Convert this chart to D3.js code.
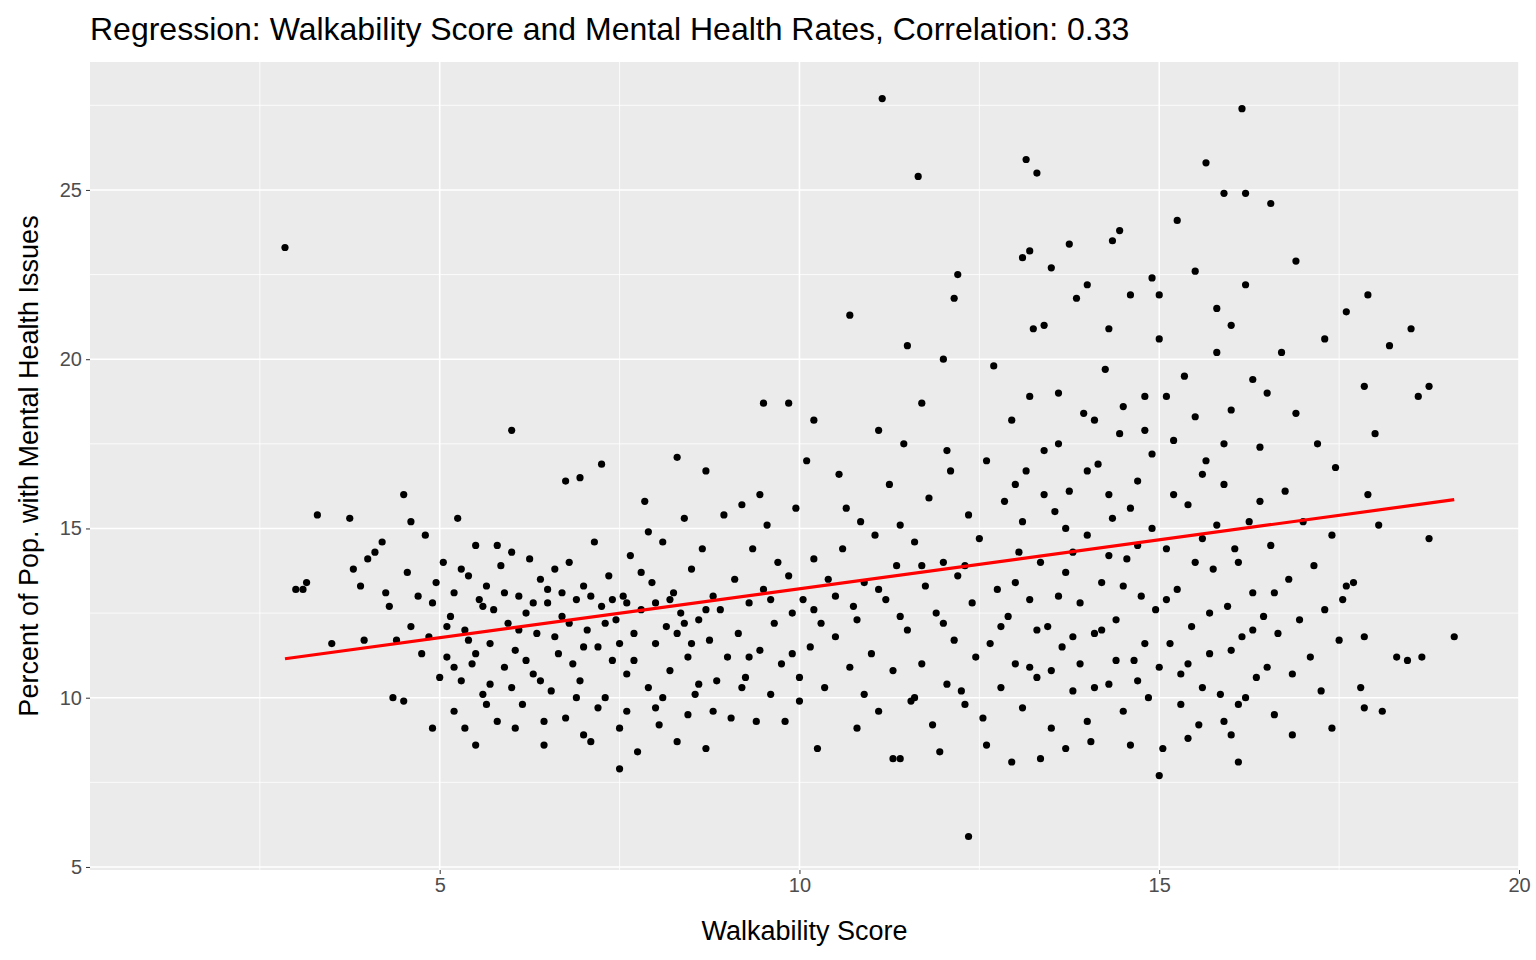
<!DOCTYPE html>
<html>
<head>
<meta charset="utf-8">
<script src="https://cdn.jsdelivr.net/npm/d3@7"></script>
<style>
  body { margin: 0; background: white; }
  text { font-family: Arial, "Liberation Sans", sans-serif; }
</style>
</head>
<body>
<svg id="chart" width="1536" height="960"></svg>
<script>
// values, as [walkability, mental health %]
var outlierPoints = [
  [2.85,23.3],[3.0,13.2],[3.15,13.4],[3.3,15.4],[3.1,13.2],[3.5,11.6],[3.75,15.3],[3.8,13.8],[3.9,13.3],
  [4.0,14.1],[4.1,14.3],[4.2,14.6],[3.95,11.7],[4.35,10.0],[4.5,9.9],[4.5,16.0],[4.6,15.2],[4.9,9.1],
  [6.0,17.9],[6.75,16.4],[6.95,16.5],[7.25,16.9],[7.5,7.9],[8.3,17.1],[8.7,16.7],[9.5,18.7],[9.85,18.7],
  [10.2,18.2],[10.7,21.3],[11.15,27.7],[11.1,17.9],[11.65,25.4],[11.5,20.4],[11.7,18.7],[12.2,22.5],
  [12.15,21.8],[12.0,20.0],[12.35,5.9],[11.95,8.4],[11.3,8.2],[11.4,8.2],[13.15,25.9],[13.3,25.5],
  [13.1,23.0],[13.2,23.2],[13.75,23.4],[13.5,22.7],[14.45,23.8],[14.35,23.5],[15.0,7.7],[15.25,24.1],
  [15.65,25.8],[15.9,24.9],[16.15,27.4],[16.2,24.9],[16.55,24.6],[16.1,8.1],[17.9,21.9],[17.85,19.2],
  [18.2,20.4],[18.5,20.9],[18.75,19.2],[18.6,18.9],[18.75,14.7],[19.1,11.8],[18.3,11.2],[18.45,11.1],
  [18.65,11.2],[17.85,9.7],[18.1,9.6],[16.85,8.9],[12.95,8.1],[13.35,8.2],[17.6,21.4],[17.3,20.6],
  [18.0,17.8],[18.05,15.1],[17.9,16.0],[17.7,13.4],[17.6,13.3],[17.85,11.8],[17.8,10.3],[17.4,9.1]
];
var clusterLeft = [
  [4.85,11.8],[4.9,12.8],[4.95,13.4],[5.0,10.6],[5.05,14.0],[5.1,11.2],[5.15,12.4],[5.2,13.1],[5.2,9.6],
  [5.25,15.3],[5.3,10.5],[5.35,12.0],[5.4,13.6],[5.45,11.0],[5.5,14.5],[5.5,8.6],[5.55,12.9],[5.6,10.1],
  [5.65,13.3],[5.7,11.6],[5.75,12.6],[5.8,9.3],[5.85,13.9],[5.9,10.9],[5.95,12.2],[6.0,14.3],[6.05,11.4],
  [6.1,13.0],[6.15,9.8],[6.2,12.5],[6.25,14.1],[6.3,10.7],[6.35,11.9],[6.4,13.5],[6.45,8.6],[6.5,12.8],
  [6.55,10.2],[6.6,13.8],[6.65,11.3],[6.7,12.4],[6.75,9.4],[6.8,14.0],[6.85,11.0],[6.9,12.9],[6.95,10.5],
  [7.0,13.3],[7.05,12.0],[7.1,8.7],[7.15,14.6],[7.2,11.5],[7.25,12.7],[7.3,10.0],[7.35,13.6],[7.4,11.1],
  [7.45,12.3],[7.5,9.1],[7.55,13.0],[7.6,10.7],[7.65,14.2],[7.7,11.9],[7.75,8.4],[7.8,12.6],[7.85,15.8],
  [7.9,10.3],[7.95,13.4],[8.0,11.6],[8.05,9.2],[8.1,14.6],[8.15,12.1],[8.2,10.8],[8.25,13.1],[8.3,8.7],
  [8.35,12.5],[8.4,15.3],[8.45,11.2],[8.5,13.8],[8.55,10.1],[8.6,12.3],[8.65,14.4],[8.7,8.5],[8.75,11.7],
  [8.8,13.0],[8.85,10.5],[8.9,12.6],[8.95,15.4],[9.0,11.2],[5.1,12.1],[5.3,13.8],[5.6,12.7],[5.9,13.1],
  [6.2,11.1],[6.5,13.2],[6.8,12.2],[7.1,13.0],[7.4,12.9],[7.7,11.1],[8.0,12.8],[8.3,11.9],[8.6,10.4],
  [5.4,11.7],[5.7,10.4],[6.0,10.3],[6.3,12.8],[6.6,11.8],[6.9,10.0],[7.2,9.7],[7.5,11.6],[7.8,13.7],
  [8.1,10.0],[8.4,12.2],[8.7,12.6],[5.2,10.9],[5.5,11.3],[5.8,14.5],[6.1,12.0],[6.4,10.5],[6.7,13.1],
  [7.0,11.5],[7.3,12.2],[7.6,12.8],[7.9,14.9],[8.2,12.9],[8.5,11.6],[8.8,9.6],[6.05,9.1],[6.45,9.3],
  [7.0,8.9],[7.6,9.6],[8.0,9.7],[8.45,9.5],[5.35,9.1],[5.65,9.8],[4.7,13.0],[4.75,11.3],[4.6,12.1],
  [4.4,11.7],[4.3,12.7],[4.55,13.7],[4.8,14.8],[4.25,13.1]
];
var clusterMid = [
  [9.05,9.4],[9.1,13.5],[9.15,11.9],[9.2,15.7],[9.25,10.6],[9.3,12.8],[9.35,14.4],[9.4,9.3],[9.45,11.4],
  [9.5,13.2],[9.55,15.1],[9.6,10.1],[9.65,12.2],[9.7,14.0],[9.75,11.0],[9.8,9.3],[9.85,13.6],[9.9,12.5],
  [9.95,15.6],[10.0,10.6],[10.05,12.9],[10.1,17.0],[10.15,11.5],[10.2,14.1],[10.25,8.5],[10.3,12.2],
  [10.35,10.3],[10.4,13.5],[10.5,11.8],[10.55,16.6],[10.6,14.4],[10.7,10.9],[10.75,12.7],[10.8,9.1],
  [10.85,15.2],[10.9,13.4],[11.0,11.3],[11.05,14.8],[11.1,9.6],[11.2,12.9],[11.25,16.3],[11.3,10.8],
  [11.35,13.9],[11.4,15.1],[11.5,12.0],[11.55,9.9],[11.6,14.6],[11.7,11.0],[11.75,13.3],[11.8,15.9],
  [11.85,9.2],[11.9,12.5],[12.0,14.0],[12.05,10.4],[12.1,16.7],[12.15,11.7],[12.2,13.6],[12.3,9.8],
  [12.35,15.4],[12.4,12.8],[12.45,11.2],[9.3,11.2],[9.6,12.9],[9.9,11.3],[10.2,12.6],[10.5,13.0],
  [10.8,12.3],[11.1,13.2],[11.4,12.4],[11.7,13.9],[12.0,12.2],[12.3,13.9],[9.2,10.3],[10.0,9.9],
  [10.9,10.1],[11.6,10.0],[12.25,10.2],[9.45,16.0],[10.65,15.6],[11.45,17.5],[12.05,17.3]
];
var clusterRight = [
  [12.5,14.7],[12.55,9.4],[12.6,17.0],[12.65,11.6],[12.7,19.8],[12.75,13.2],[12.8,10.3],[12.85,15.8],
  [12.9,12.4],[12.95,18.2],[13.0,11.0],[13.05,14.3],[13.1,9.7],[13.15,16.7],[13.2,12.9],[13.25,20.9],
  [13.3,10.6],[13.35,14.0],[13.4,17.3],[13.45,12.1],[13.5,9.1],[13.55,15.5],[13.6,19.0],[13.65,11.5],
  [13.7,13.7],[13.75,16.1],[13.8,10.2],[13.85,21.8],[13.9,12.8],[13.95,18.4],[14.0,14.8],[14.05,8.7],
  [14.1,11.9],[14.15,16.9],[14.2,13.4],[14.25,19.7],[14.3,10.4],[14.35,15.3],[14.4,12.3],[14.45,17.8],
  [14.5,9.6],[14.55,14.1],[14.6,21.9],[14.65,11.1],[14.7,16.4],[14.75,13.0],[14.8,18.9],[14.85,10.0],
  [14.9,15.0],[14.95,12.6],[15.0,20.6],[15.05,8.5],[15.1,14.4],[15.15,11.6],[15.2,17.6],[15.25,13.2],
  [15.3,10.7],[15.35,19.5],[15.4,15.7],[15.45,12.1],[15.5,22.6],[15.55,9.2],[15.6,14.7],[15.65,17.0],
  [15.7,11.3],[15.75,13.8],[15.8,20.2],[15.85,10.1],[15.9,16.3],[15.95,12.7],[16.0,18.5],[16.05,14.4],
  [16.1,9.8],[16.15,11.8],[16.2,22.2],[16.25,15.2],[16.3,13.1],[16.35,10.6],[16.4,17.4],[16.45,12.4],
  [16.5,19.0],[16.55,14.5],[16.6,9.5],[16.65,11.9],[16.7,20.2],[16.75,16.1],[16.8,13.5],[16.85,10.7],
  [16.9,18.4],[16.95,12.3],[17.0,15.2],[17.1,11.2],[17.15,13.9],[17.2,17.5],[17.25,10.2],[17.3,12.6],
  [17.4,14.8],[17.45,16.8],[17.5,11.7],[17.55,12.9],[13.0,13.4],[13.3,12.0],[13.6,13.0],[13.9,11.0],
  [14.2,12.0],[14.5,13.3],[14.8,11.6],[15.1,12.9],[15.4,11.0],[15.7,12.5],[16.0,11.4],[16.3,12.0],
  [13.1,15.2],[13.4,16.0],[13.7,15.0],[14.0,16.7],[14.3,14.2],[14.6,15.6],[14.9,17.2],[15.2,16.0],
  [15.5,14.0],[15.8,15.1],[16.1,14.0],[16.4,15.8],[13.2,10.9],[13.5,10.8],[13.8,11.8],[14.1,10.3],
  [14.4,11.1],[14.7,10.5],[15.0,10.9],[15.3,9.8],[15.6,10.3],[15.9,9.3],[16.2,10.0],[16.5,10.9],
  [13.2,18.9],[13.6,17.5],[14.1,18.2],[14.5,18.6],[14.8,17.9],[15.1,18.9],[15.5,18.3],[15.9,17.5],
  [16.3,19.4],[12.8,12.1],[13.0,16.3],[13.8,14.3],[14.3,16.0],[14.7,14.5],[15.6,16.6],[16.6,13.1],
  [14.0,9.3],[14.6,8.6],[15.4,8.8],[13.7,8.5],[16.0,8.9],[12.6,8.6],[14.3,20.9],[15.0,21.9],[15.8,21.5],
  [14.9,22.4],[13.4,21.0],[14.0,22.2],[16.0,21.0],[16.9,22.9]
];
var xTicks = [5, 10, 15, 20];
var yTicks = [5, 10, 15, 20, 25];
var fitLine = [[2.85, 11.15], [19.1, 15.85]];

var points = outlierPoints.concat(clusterLeft, clusterMid, clusterRight);

var svg = d3.select("#chart");
var pLeft = 90, pRight = 1519, pTop = 62, pBottom = 870;

var x = d3.scaleLinear().domain([0.14, 20]).range([pLeft, pRight]);
var y = d3.scaleLinear().domain([4.91, 28.78]).range([pBottom, pTop]);

svg.append("rect").attr("x", pLeft).attr("y", pTop)
  .attr("width", pRight - pLeft).attr("height", pBottom - pTop).attr("fill", "#EBEBEB");

// minor grid
var xMinor = [2.5, 7.5, 12.5, 17.5];
var yMinor = [7.5, 12.5, 17.5, 22.5, 27.5];
svg.selectAll(".xminor").data(xMinor).enter().append("line")
  .attr("x1", d => x(d)).attr("x2", d => x(d)).attr("y1", pTop).attr("y2", pBottom)
  .attr("stroke", "white").attr("stroke-width", 0.8);
svg.selectAll(".yminor").data(yMinor).enter().append("line")
  .attr("y1", d => y(d)).attr("y2", d => y(d)).attr("x1", pLeft).attr("x2", pRight)
  .attr("stroke", "white").attr("stroke-width", 0.8);
// major grid
svg.selectAll(".xmajor").data(xTicks).enter().append("line")
  .attr("x1", d => x(d)).attr("x2", d => x(d)).attr("y1", pTop).attr("y2", pBottom)
  .attr("stroke", "white").attr("stroke-width", 1.6);
svg.selectAll(".ymajor").data(yTicks).enter().append("line")
  .attr("y1", d => y(d)).attr("y2", d => y(d)).attr("x1", pLeft).attr("x2", pRight)
  .attr("stroke", "white").attr("stroke-width", 1.6);

svg.append("g").selectAll("circle").data(points).enter().append("circle")
  .attr("cx", d => x(d[0])).attr("cy", d => y(d[1])).attr("r", 3.6).attr("fill", "black");

svg.append("line")
  .attr("x1", x(fitLine[0][0])).attr("y1", y(fitLine[0][1]))
  .attr("x2", x(fitLine[1][0])).attr("y2", y(fitLine[1][1]))
  .attr("stroke", "red").attr("stroke-width", 3.2);

// axes
var xAxis = svg.append("g").attr("transform", "translate(0," + pBottom + ")")
  .call(d3.axisBottom(x).tickValues(xTicks).tickSize(4).tickPadding(4));
var yAxis = svg.append("g").attr("transform", "translate(" + pLeft + ",0)")
  .call(d3.axisLeft(y).tickValues(yTicks).tickSize(4).tickPadding(4));
[xAxis, yAxis].forEach(function(a) {
  a.select(".domain").remove();
  a.selectAll(".tick line").attr("stroke", "#333333");
  a.selectAll(".tick text").attr("fill", "#4D4D4D").style("font-size", "20px")
    .style("font-family", "Arial, 'Liberation Sans', sans-serif");
});

svg.append("text").attr("x", (pLeft + pRight) / 2).attr("y", 940).attr("text-anchor", "middle")
  .style("font-size", "27px").text("Walkability Score");
svg.append("text").attr("transform", "translate(38," + ((pTop + pBottom) / 2) + ") rotate(-90)")
  .attr("text-anchor", "middle").style("font-size", "27px")
  .text("Percent of Pop. with Mental Health Issues");
svg.append("text").attr("x", pLeft).attr("y", 40).style("font-size", "32px")
  .text("Regression: Walkability Score and Mental Health Rates, Correlation: 0.33");
</script>
</body>
</html>
